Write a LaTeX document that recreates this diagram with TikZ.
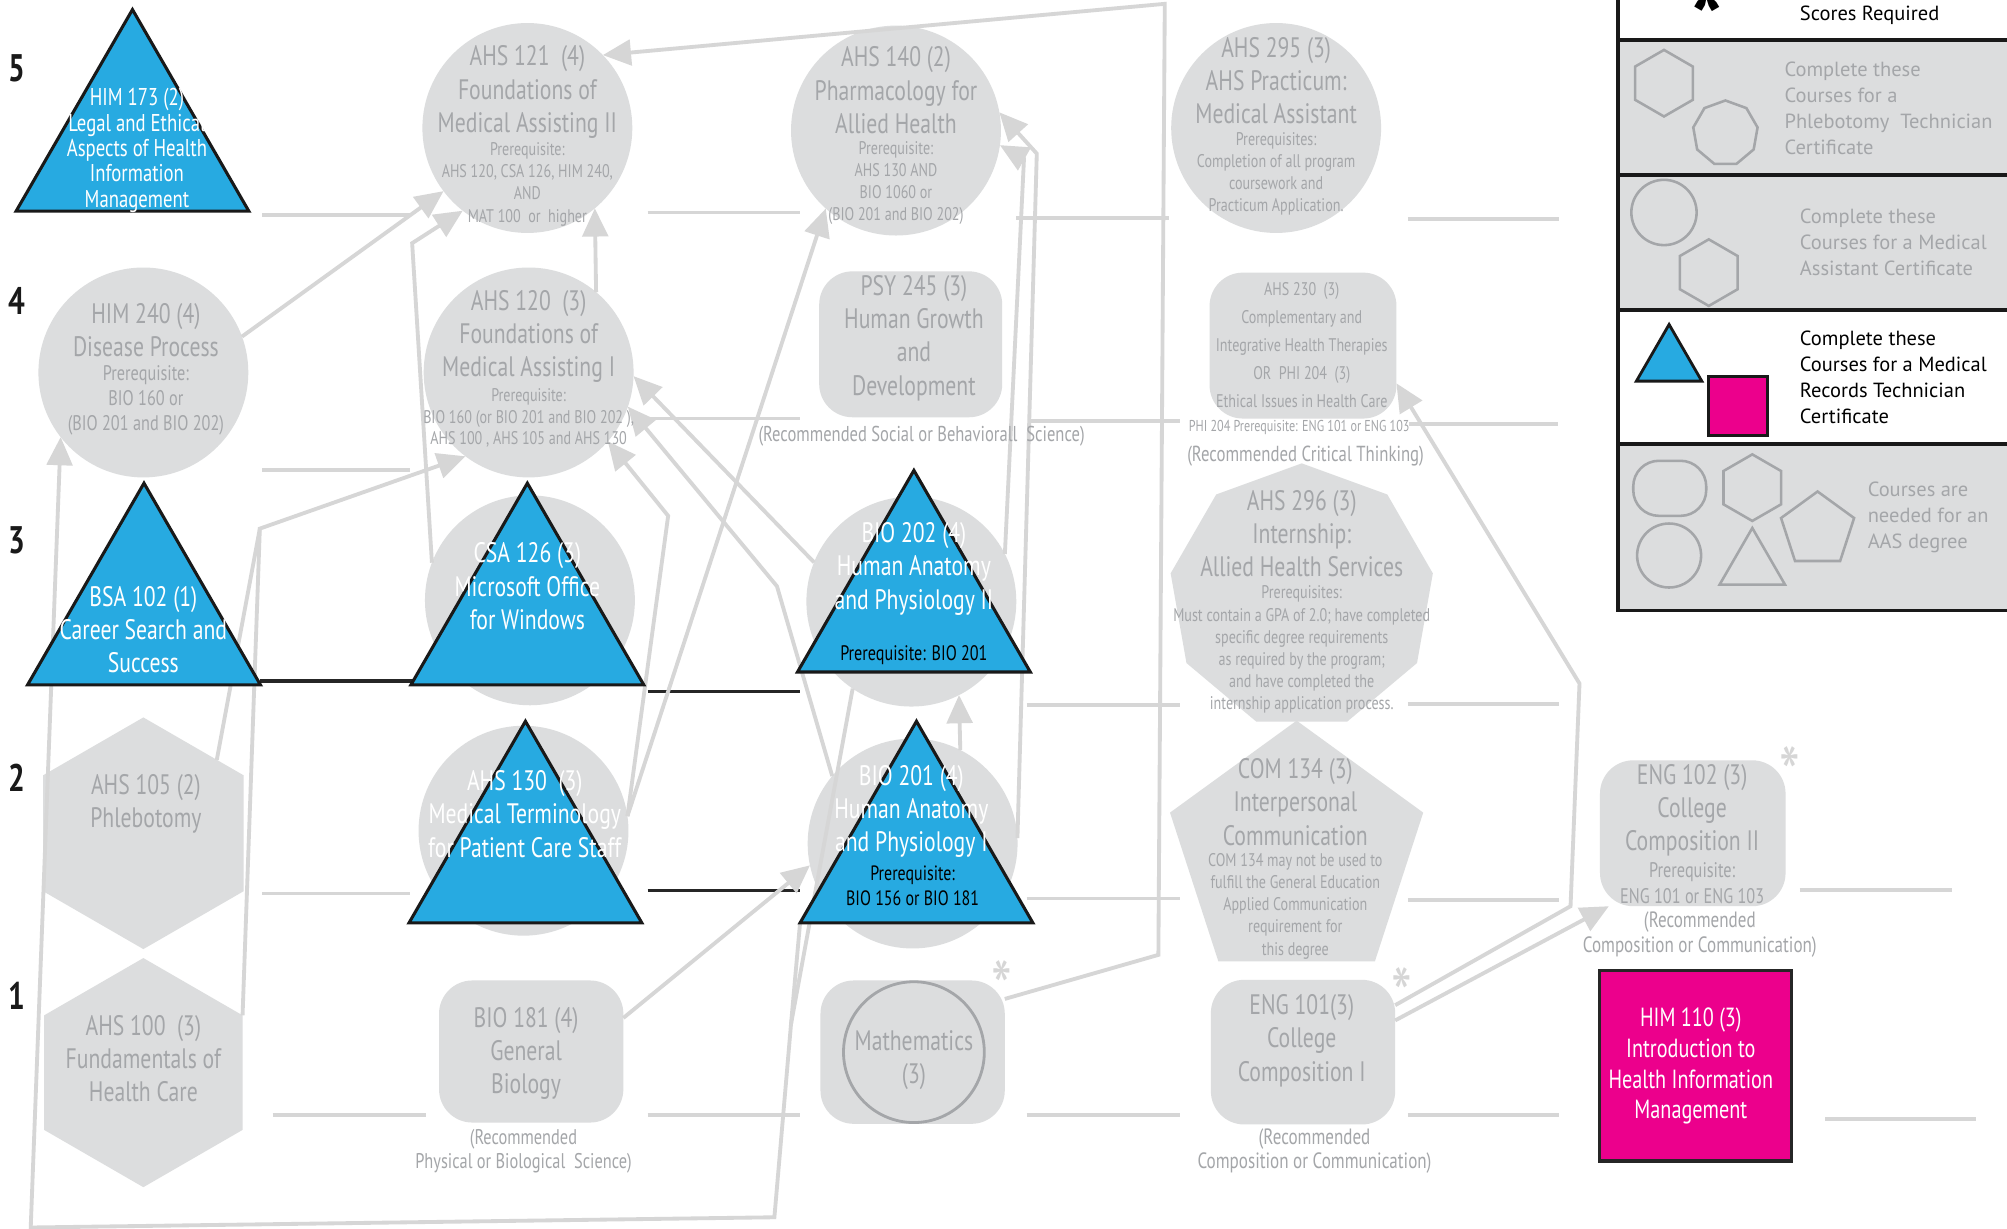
\documentclass[tikz,border=0pt]{standalone}
\usepackage{fontspec}
\setmainfont{PT Sans}
\newfontfamily\cnd{PT Sans}[FakeStretch=0.77]
\newfontfamily\lgf{PT Sans}
\usetikzlibrary{shapes.geometric,arrows.meta}
\pgfdeclarelayer{back}
\pgfdeclarelayer{mid}
\pgfsetlayers{back,mid,main}
\definecolor{ngray}{HTML}{DCDDDE}
\definecolor{tgray}{HTML}{A4A6A9}
\definecolor{lgray}{HTML}{D6D6D6}
\definecolor{cblue}{HTML}{27AAE1}
\definecolor{cmag}{HTML}{EC008C}
\newcommand\cf[2]{\cnd\fontsize{#1}{#2}\selectfont}
\newcommand\lf{\lgf\fontsize{16}{20.3}\selectfont}
\tikzset{
 gsh/.style={fill=ngray, draw=none, inner sep=0pt, outer sep=0pt},
 gcirc/.style={gsh, circle, minimum size=164pt},
 grr/.style 2 args={gsh, rectangle, rounded corners=26pt, minimum width=#1, minimum height=#2},
 hexa/.style={gsh, regular polygon, regular polygon sides=6, regular polygon rotate=30, minimum size=#1},
 tri/.style={regular polygon, regular polygon sides=3, minimum size=210pt, inner sep=0pt, outer sep=0pt, fill=cblue, draw=black!90, line width=2.4pt},
 ttl/.style={font=\cf{22}{26}, text=tgray, align=center, inner sep=0pt},
 sml/.style={font=\cf{14.3}{17.3}, text=tgray, align=center, inner sep=0pt},
 wtx/.style={font=\cf{22}{26}, text=white, align=center, inner sep=0pt},
 btx/.style={font=\cf{16.2}{20}, text=black, align=center, inner sep=0pt},
 rowl/.style={draw=lgray, line width=3pt},
 rowb/.style={draw=black!85, line width=2.5pt},
 conn/.style={draw=lgray, line width=3pt, -{Triangle[length=22pt,width=20pt]}},
 plainc/.style={draw=lgray, line width=3pt},
 lgo/.style={draw=tgray, line width=2pt, fill=none, inner sep=0pt, outer sep=0pt},
 lgt/.style={font=\lf, align=left, anchor=west, inner sep=0pt},
 ast/.style={font=\cnd\fontsize{60}{60}\selectfont, text=lgray, inner sep=0pt},
 rown/.style={font=\cnd\bfseries\fontsize{30}{32}\selectfont, inner sep=0pt, text=black!90},
}
\begin{document}
\begin{tikzpicture}[x=1pt,y=-1pt]
\useasboundingbox (0,0) rectangle (1568,960);
\begin{pgfonlayer}{back}
\fill[white] (0,0) rectangle (1568,960);
% row guide lines
\draw[rowl] (205,168) -- (320,168);
\draw[rowl] (205,367) -- (320,367);
\draw[rowl] (205,698) -- (320,698);
\draw[rowl] (213,871) -- (333,871);
\draw[rowl] (506,166) -- (625,166);
\draw[rowl] (506,327) -- (625,327);
\draw[rowl] (506,871) -- (625,871);
\draw[rowl] (794,170) -- (913,170);
\draw[rowl] (803,329) -- (922,329);
\draw[rowl] (802,551) -- (922,551);
\draw[rowl] (802,702) -- (922,702);
\draw[rowl] (802,871) -- (922,871);
\draw[rowl] (1100,171) -- (1218,171);
\draw[rowl] (1101,331) -- (1217,331);
\draw[rowl] (1100,550) -- (1218,550);
\draw[rowl] (1100,703) -- (1218,703);
\draw[rowl] (1100,871) -- (1218,871);
\draw[rowl] (1406,695) -- (1525,695);
\draw[rowl] (1426,874) -- (1544,874);
\draw[rowb] (203,532) -- (323,532);
\draw[rowb] (506,540) -- (625,540);
\draw[rowb] (506,696) -- (625,696);
% gray shapes
\node[gcirc] (c121) at (412,100) {};
\node[gcirc] (c120) at (413,291) {};
\node[gcirc] (c240) at (112,291) {};
\node[gcirc] (c140) at (700,102) {};
\node[gcirc] (c295) at (997,100) {};
\node[gcirc] (gcsa) at (414,469) {};
\node[gcirc] (gahs130) at (409,649) {};
\node[gcirc] (gbio202) at (712,470) {};
\node[gcirc] (gbio201) at (713,659) {};
\node[hexa=181pt] (h105) at (112,651) {};
\node[hexa=179pt] (h100) at (112,838) {};
\node[gsh, regular polygon, regular polygon sides=9, minimum size=208pt] (n296) at (1017,466) {};
\node[gsh, regular polygon, regular polygon sides=5, minimum size=208pt] (p134) at (1013,667) {};
\node[grr={143pt}{114pt}] (psy) at (711.5,269) {};
\node[grr={146pt}{114pt}] (a230) at (1018,270) {};
\node[grr={144pt}{111pt}] (b181) at (415,821.5) {};
\node[grr={144pt}{112pt}] (math) at (713,822) {};
\node[grr={144pt}{113pt}] (e101) at (1018,822) {};
\node[grr={145pt}{114pt}] (e102) at (1322.5,651) {};
\end{pgfonlayer}
% blue triangles and other filled shapes
\node[tri] (t173) at (103.5,112.5) {};
\node[tri] (tbsa) at (112.5,482.5) {};
\node[tri] (tcsa) at (412,482.5) {};
\node[tri] (t130) at (410.5,668.5) {};
\node[tri] (tbio202) at (714,472.5) {};
\node[tri] (tbio201) at (716,668.5) {};
\node[draw=tgray, line width=2.2pt, circle, minimum size=110pt, inner sep=0pt] (mring) at (714,822) {};
\node[rectangle, fill=cmag, draw=black!85, line width=2.5pt, minimum width=150pt, minimum height=149pt, inner sep=0pt] (h110) at (1324.5,832.5) {};
% connectors
\begin{pgfonlayer}{mid}
\coordinate (k1) at (322,190);
\coordinate (m1) at (905,746);
\coordinate (m2) at (910,3);
\coordinate (j1) at (203,413);
\coordinate (j2) at (607,458);
\coordinate (j3) at (522,403);
\coordinate (a1) at (810,120);
\coordinate (a2) at (800,124);
\coordinate (b0) at (618,800);
\coordinate (b1) at (605,951);
\coordinate (b2) at (24,959);
\coordinate (e1) at (1227,708);
\coordinate (e2) at (1234,534);
\draw[conn] (c240.20) -- (c121.217);
\draw[conn] (gcsa.159) -- (k1) -- (c121.232);
\draw[conn] (c120.50) -- (c121.-50);
\draw[conn] (math.30) -- (m1) -- (m2) -- (c121.44);
\draw[plainc] (h105.45) -- (j1);
\draw[conn] (h100.30) -- (j1) -- (c120.233);
\draw[conn] (gbio202.158) -- (c120.-2);
\draw[conn] (gbio201.140) -- (j2) -- (c120.-19);
\draw[conn] (gahs130.8) -- (j3) -- (c120.-41);
\draw[conn] (gahs130.8) -- (c140.228);
\draw[conn] (gbio201.3) -- (a1) -- (c140.10);
\draw[conn] (gbio202.27) -- (a2) -- (c140.-8);
\draw[conn] (gbio201.63) -- (gbio202.-63);
\draw[conn] (b181.20) -- (gbio201.192);
\draw[conn] (tbio201.210) -- (b0) -- (b1) -- (b2) -- (c240.218);
\draw[plainc] (gbio202.236) -- (b0);
\draw[conn] (e101.19) -- (e102.221);
\draw[conn] (e101.27) -- (e1) -- (e2) -- (a230.-22);
\end{pgfonlayer}
% texts
\node[wtx, font=\cf{19}{19.75}] (x173) at (107,117.5) {HIM 173 (2)\\Legal and Ethical\\Aspects of Health\\Information\\Management};
\node[ttl] (x240) at (114,258) {HIM 240 (4)\\Disease Process};
\node[sml, font=\cf{16.5}{19.5}] (y240) at (114,312.5) {Prerequisite:\\BIO 160 or\\(BIO 201 and BIO 202)};
\node[ttl] (x121) at (412,72) {AHS 121\ \ (4)\\Foundations of\\Medical Assisting II};
\node[sml] (y121) at (412,144) {Prerequisite:\\AHS 120, CSA 126, HIM 240,\\AND\\MAT 100\ \ or\ \ higher};
\node[ttl] (x120) at (413,263) {AHS 120\ \ (3)\\Foundations of\\Medical Assisting I};
\node[sml, font=\cf{14.3}{16.5}] (y120) at (413,326.5) {Prerequisite:\\BIO 160 (or BIO 201 and BIO 202 ),\\AHS 100 , AHS 105 and AHS 130};
\node[ttl] (x140) at (700,70.5) {AHS 140 (2)\\Pharmacology for\\Allied Health};
\node[sml] (y140) at (700,143) {Prerequisite:\\AHS 130 AND\\BIO 1060 or\\(BIO 201 and BIO 202)};
\node[ttl] (x295) at (997,63) {AHS 295 (3)\\AHS Practicum:\\Medical Assistant};
\node[sml] (y295) at (997,136) {Prerequisites:\\Completion of all program\\coursework and\\Practicum Application.};
\node[ttl] (xpsy) at (714,264) {PSY 245 (3)\\Human Growth\\and\\Development};
\node[sml, font=\cf{16.8}{20}] (rpsy) at (720,341) {(Recommended Social or Behaviorall\ \ Science)};
\node[sml, font=\cf{14.3}{21.75}] (x230) at (1017,269.5) {AHS 230\ \ (3)\\Complementary and\\Integrative Health Therapies\\OR\ \ PHI 204\ \ (3)\\Ethical Issues in Health Care};
\node[sml, font=\cf{12.3}{16}] (r230a) at (1015,334) {PHI 204 Prerequisite: ENG 101 or ENG 103};
\node[sml, font=\cf{17}{20}] (r230b) at (1020,356) {(Recommended Critical Thinking)};
\node[ttl] (x296) at (1017,417) {AHS 296 (3)\\Internship:\\Allied Health Services};
\node[sml] (y296) at (1017,507.5) {Prerequisites:\\Must contain a GPA of 2.0; have completed\\specific degree requirements\\as required by the program;\\and have completed the\\internship application process.};
\node[ttl] (x134) at (1012,626.5) {COM 134 (3)\\Interpersonal\\Communication};
\node[sml] (y134) at (1012,708) {COM 134 may not be used to\\fulfill the General Education\\Applied Communication\\requirement for\\this degree};
\node[wtx] (xbsa) at (112,492) {BSA 102 (1)\\Career Search and\\Success};
\node[wtx] (xcsa) at (412,458) {CSA 126 (3)\\Microsoft Office\\for Windows};
\node[wtx] (x130) at (410,636) {AHS 130\ \ (3)\\Medical Terminology\\for Patient Care Staff};
\node[wtx] (x202) at (714,444.5) {BIO 202 (4)\\Human Anatomy\\and Physiology II};
\node[btx, font=\cf{16.4}{20}] (y202) at (714,512) {Prerequisite: BIO 201};
\node[wtx] (x201) at (712,634) {BIO 201 (4)\\Human Anatomy\\and Physiology I};
\node[btx] (y201) at (713,692) {Prerequisite:\\BIO 156 or BIO 181};
\node[ttl] (x105) at (114,628) {AHS 105 (2)\\Phlebotomy};
\node[ttl] (x100) at (112,827) {AHS 100\ \ (3)\\Fundamentals of\\Health Care};
\node[ttl] (x181) at (411,823) {BIO 181 (4)\\General\\Biology};
\node[sml, font=\cf{16.6}{19}] (r181) at (409,899.5) {(Recommended\\Physical or Biological\ \ Science)};
\node[ttl] (xmath) at (714,828) {Mathematics\\(3)};
\node[ttl] (x101) at (1017,813) {ENG 101(3)\\College\\Composition I};
\node[sml, font=\cf{17.3}{19}] (r101) at (1027,899.5) {(Recommended\\Composition or Communication)};
\node[ttl] (x102) at (1322,633) {ENG 102 (3)\\College\\Composition II};
\node[sml, font=\cf{16.5}{20}] (y102) at (1322,690) {Prerequisite:\\ENG 101 or ENG 103};
\node[sml, font=\cf{17.3}{20}] (r102) at (1328,730) {(Recommended\\Composition or Communication)};
\node[wtx, font=\cf{20.5}{24}] (x110) at (1321,833) {HIM 110 (3)\\Introduction to\\Health Information\\Management};
% row numbers
\node[rown] (n5) at (13,53) {5};
\node[rown] (n4) at (13,235) {4};
\node[rown] (n3) at (13,422) {3};
\node[rown] (n2) at (13,608) {2};
\node[rown] (n1) at (13,778) {1};
% asterisks
\node[ast] (s1) at (783,772) {*};
\node[ast] (s2) at (1095,777) {*};
\node[ast] (s3) at (1398,605) {*};
% legend
\fill[ngray] (1264,31) rectangle (1570,137);
\fill[ngray] (1264,137) rectangle (1570,242);
\fill[ngray] (1264,347) rectangle (1570,477);
\draw[black!90, line width=3pt] (1264,-3) -- (1264,477) -- (1572,477);
\foreach \yy in {31,137,242,347} \draw[black!90, line width=3pt] (1264,\yy) -- (1572,\yy);
\node[font=\lgf\bfseries\fontsize{90}{90}\selectfont, inner sep=0pt] (last) at (1334,15) {*};
\node[lgt, text=black] (lsr) at (1406,12) {Scores Required};
\node[lgo, regular polygon, regular polygon sides=6, regular polygon rotate=30, minimum size=52pt] (lh1) at (1300,65) {};
\node[lgo, regular polygon, regular polygon sides=9, minimum size=51pt] (ln1) at (1348,104) {};
\node[lgt, text=tgray] (lt1) at (1394,85) {Complete these\\Courses for a\\Phlebotomy\ \ Technician\\Certificate};
\node[lgo, circle, minimum size=51pt] (lc1) at (1300,166) {};
\node[lgo, regular polygon, regular polygon sides=6, regular polygon rotate=30, minimum size=52pt] (lh2) at (1335,213) {};
\node[lgt, text=tgray] (lt2) at (1406,189) {Complete these\\Courses for a Medical\\Assistant Certificate};
\node[regular polygon, regular polygon sides=3, minimum size=59pt, inner sep=0pt, fill=cblue, draw=black!90, line width=2.2pt] (ltr) at (1304,283) {};
\node[rectangle, fill=cmag, draw=black!90, line width=2.2pt, minimum size=46pt, inner sep=0pt] (lsq) at (1358,317) {};
\node[lgt, text=black] (lt3) at (1406,295) {Complete these\\Courses for a Medical\\Records Technician\\Certificate};
\node[lgo, rectangle, rounded corners=20pt, minimum width=57pt, minimum height=43pt] (lrr) at (1304.5,381.5) {};
\node[lgo, regular polygon, regular polygon sides=6, regular polygon rotate=30, minimum size=52pt] (lh3) at (1369,381) {};
\node[lgo, regular polygon, regular polygon sides=5, minimum size=60pt] (lp) at (1420,414) {};
\node[lgo, circle, minimum size=50pt] (lc2) at (1304,434) {};
\node[lgo, regular polygon, regular polygon sides=3, minimum size=59pt] (lt) at (1369,442) {};
\node[lgt, text=tgray] (lt4) at (1459,404) {Courses are\\needed for an\\AAS degree};
\end{tikzpicture}
\end{document}
